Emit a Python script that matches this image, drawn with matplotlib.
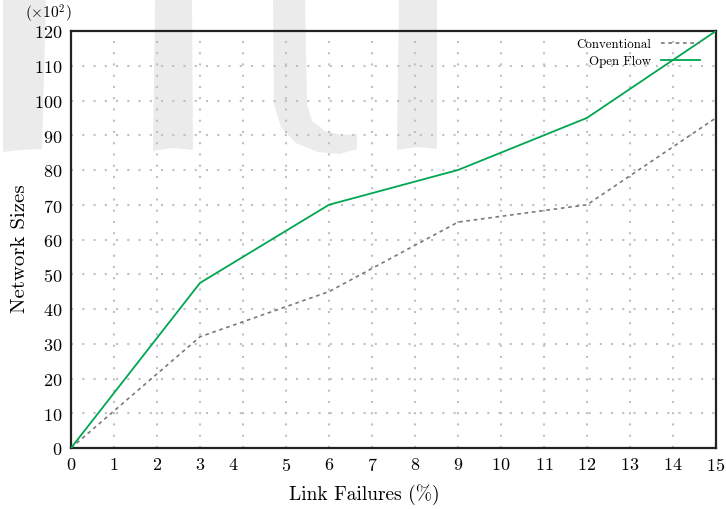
import numpy as np
import matplotlib
matplotlib.use("Agg")
import matplotlib.pyplot as plt
from matplotlib.patches import Polygon
import matplotlib.transforms as mtransforms

plt.rcParams['font.family'] = 'cmr10'
plt.rcParams['mathtext.fontset'] = 'cm'
plt.rcParams['axes.formatter.use_mathtext'] = True

# data (x 10^2)
failures = [0, 3, 6, 9, 12, 15]
conventional = [0, 32, 45, 65, 70, 95]
open_flow = [0, 47.5, 70, 80, 95, 120]
xticks = list(range(0, 16))
yticks = list(range(0, 121, 10))

fig = plt.figure(figsize=(7.26, 5.10), dpi=100)

# faint watermark behind the plot (pixel coords)
bg = fig.add_axes([0, 0, 1, 1], zorder=0)
bg.set_xlim(0, 726)
bg.set_ylim(510, 0)
bg.axis("off")
wm = "#ebebeb"
shapes = [
    [(3, 0), (46, 0), (42, 150), (20, 151), (3, 153)],
    [(155, 0), (192, 0), (193, 151), (173, 149), (153, 152)],
    [(273, 0), (305, 0), (307, 105), (312, 122), (325, 132), (342, 136), (357, 135),
     (357, 150), (340, 155), (318, 153), (296, 144), (281, 128), (274, 105)],
    [(399, 0), (437, 0), (437, 150), (417, 148), (397, 151)],
]
for s in shapes:
    bg.add_patch(Polygon(s, closed=True, facecolor=wm, edgecolor="none"))

ax = fig.add_axes([71 / 726, 61 / 510, 645 / 726, 417 / 510], zorder=1)
ax.set_facecolor("none")

ax.plot(failures, conventional, color="#7a7a7a", lw=1.2, ls=(0, (2.2, 2.2)),
        label="Conventional", zorder=3)
ax.plot(failures, open_flow, color="#00a651", lw=1.3, label="Open Flow", zorder=3)

ax.set_xlim(0, 15)
ax.set_ylim(0, 120)
ax.set_xticks(xticks)
ax.set_yticks(yticks)
ax.tick_params(length=0, labelsize=13, pad=6)
ax.grid(True, color="#c0c0c0", lw=1.5, ls=(0, (1, 4.4)), zorder=0)
for sp in ax.spines.values():
    sp.set_linewidth(1.6)
    sp.set_color("#222222")

# the "4" label sits a bit left of its gridline in the original
lab4 = ax.get_xticklabels()[4]
lab4.set_transform(lab4.get_transform() + mtransforms.ScaledTranslation(-0.1, 0, fig.dpi_scale_trans))

ax.set_xlabel("Link Failures (%)", fontsize=14)
ax.xaxis.set_label_coords((364 - 71) / 645, -(495 - 449) / 417)
ax.xaxis.label.set_va("center")
ax.set_ylabel("Network Sizes", fontsize=15)
ax.yaxis.set_label_coords(-(71 - 20) / 645, (449 - 249) / 417)
ax.yaxis.label.set_va("center")
fig.text(48 / 726, 1 - 14 / 510, r"$(\times10^2)$", fontsize=11, ha="center", va="center")

ax.legend(loc="upper right", frameon=False, markerfirst=False, fontsize=9.3,
          handlelength=3.0, borderaxespad=0, labelspacing=0.38,
          bbox_to_anchor=(1 - 11 / 645, 1 - 2 / 417))

fig.savefig("out.png", dpi=100)
